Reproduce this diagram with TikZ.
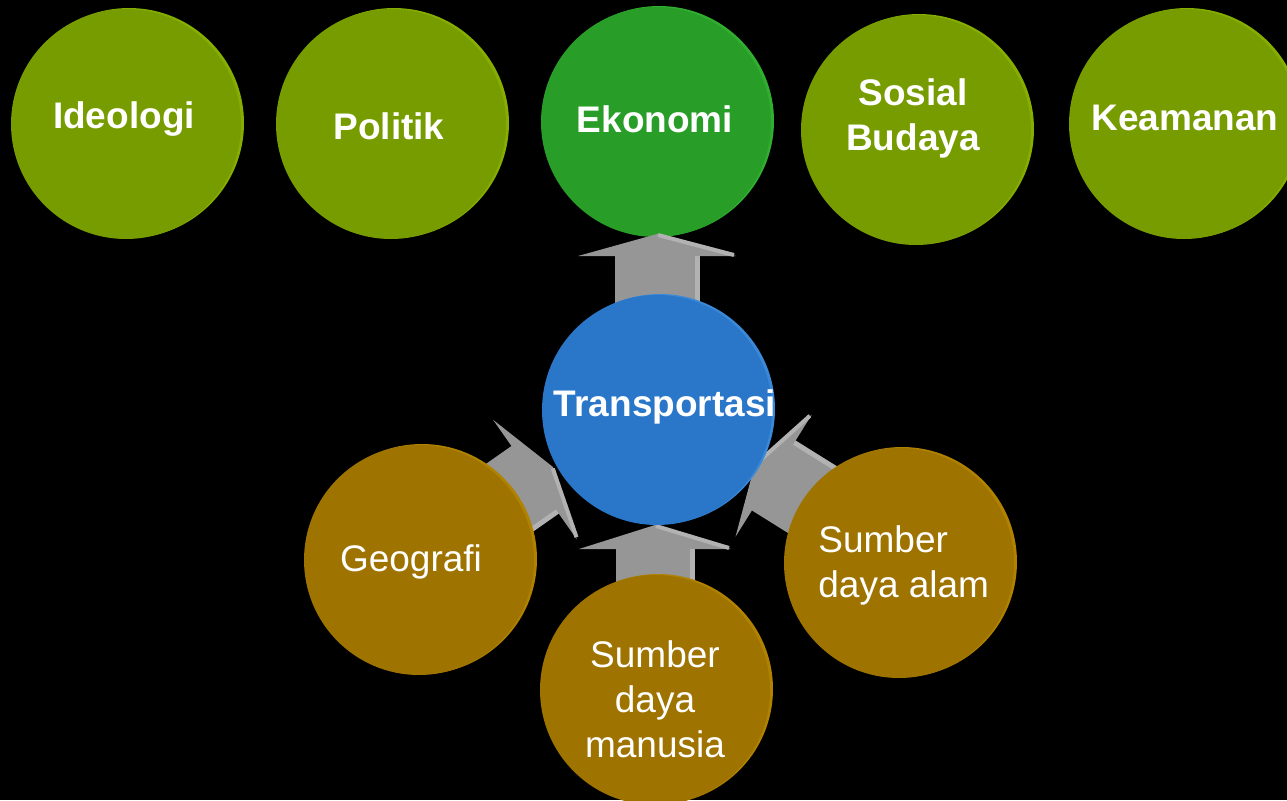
\documentclass[tikz,border=0pt]{standalone}
\usepackage{fontspec}
\setmainfont{Liberation Sans}
\definecolor{olivec}{HTML}{779C00}
\definecolor{oliverim}{HTML}{86AE00}
\definecolor{greenc}{HTML}{289E28}
\definecolor{greenrim}{HTML}{30AE30}
\definecolor{bluec}{HTML}{2A76C8}
\definecolor{bluerim}{HTML}{3A88D8}
\definecolor{brownc}{HTML}{9E7300}
\definecolor{brownrim}{HTML}{B08200}
\definecolor{arrowgrey}{HTML}{969696}
\definecolor{arrowlight}{HTML}{B2B2B2}
\newcommand\myball[5]{%
  \fill[#5] ($(#2,#3)+(3,-1)$) circle (115);
  \node[ball, fill=#4] (#1) at (#2,#3) {};}
\newcommand\fatarrow[8]{%
  \begin{scope}[shift={(#2,#3)}, rotate=#4]
    \fill[arrowgrey] (0,0) -- (-#5,#6) -- (-#5,#7) -- (-#8,#7) -- (-#8,-#7) -- (-#5,-#7) -- (-#5,-#6) -- cycle;
    \draw[arrowlight, line width=2.5pt] (-#5,#7-2) -- (-#8,#7-2);
    \draw[arrowlight, line width=2pt] (-1,1) -- (-#5+1,#6-2);
    \coordinate (#1) at (0,0);
  \end{scope}}
\usetikzlibrary{calc}
\begin{document}
\begin{tikzpicture}[x=0.5pt,y=-0.5pt,
  ball/.style={circle, minimum size=115pt, inner sep=0pt},
  btxt/.style={text=white, font=\fontsize{18.5}{22.5}\selectfont\bfseries, align=center, inner sep=0pt},
  rtxt/.style={text=white, font=\fontsize{18.5}{22.5}\selectfont, align=center, inner sep=0pt},
  ltxt/.style={text=white, font=\fontsize{18.5}{22.5}\selectfont, align=left, inner sep=0pt}]
\fill[black] (0,0) rectangle (1287,800);
\useasboundingbox (0,0) rectangle (1287,800);

% top row
\myball{ideo}{126}{124}{olivec}{oliverim}
\myball{poli}{391}{124}{olivec}{oliverim}
\myball{eko}{656}{122}{greenc}{greenrim}
\myball{sos}{916}{130}{olivec}{oliverim}
\myball{kea}{1184}{124}{olivec}{oliverim}
\node[btxt] (tideo) at (124,119) {Ideologi};
\node[btxt] (tpoli) at (389,126) {Politik};
\node[btxt] (teko) at (655,119) {Ekonomi};
\node[btxt] (tsos) at (913,118) {Sosial\\Budaya};
\node[btxt] (tkea) at (1185,118) {Keamanan};

% arrows
\fatarrow{aup}{657}{234}{90}{22}{79}{42}{100}
\fatarrow{adown}{655}{525}{90}{24}{76}{39}{80}
\fatarrow{aleft}{553}{467}{35}{22}{73}{41}{110}
\fatarrow{aright}{755}{464}{148}{22}{72}{41}{110}

% centre and bottom
\myball{trans}{657}{410}{bluec}{bluerim}
\myball{geo}{419}{560}{brownc}{brownrim}
\myball{sdm}{655}{690}{brownc}{brownrim}
\myball{sda}{899}{563}{brownc}{brownrim}
\node[btxt] (ttrans) at (665,407) {Transportasi};
\node[rtxt] (tgeo) at (411,562) {Geografi};
\node[rtxt] (tsdm) at (655,699) {Sumber\\daya\\manusia};
\node[ltxt, anchor=west] (tsda) at (818,565) {Sumber\\daya alam};
\end{tikzpicture}
\end{document}
